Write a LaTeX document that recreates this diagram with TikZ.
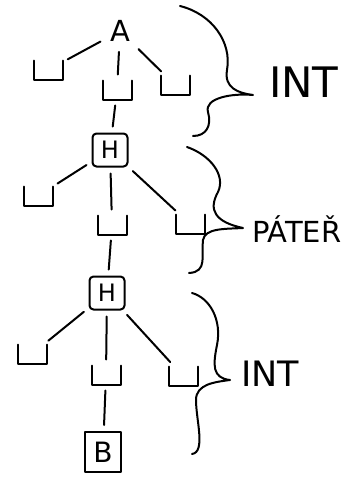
\documentclass[tikz,border=0pt]{standalone}
\usepackage{fontspec}
\setmainfont{DejaVu Sans}
\begin{document}
\begin{tikzpicture}[x=1pt,y=-1pt,line width=2pt,line cap=round,line join=round,
  leaf/.style={minimum width=27pt,minimum height=17pt,inner sep=0pt},
  hbox/.style={draw,rounded corners=4pt,minimum width=35pt,minimum height=33pt,inner sep=0pt,font=\fontsize{24}{24}\selectfont},
  edge/.style={shorten >=6pt,shorten <=6pt},
  lbl/.style={anchor=west,inner sep=0pt}]
\useasboundingbox (0,0) rectangle (351,485);
% nodes
\node[font=\fontsize{29}{29}\selectfont] (A) at (120,31) {A};
\node[leaf] (l1) at (48,70) {};
\node[leaf] (m1) at (117,90) {};
\node[leaf] (r1) at (175,85) {};
\node[hbox] (H1) at (110,150) {H};
\node[leaf] (l2) at (38,196) {};
\node[leaf] (m2) at (112,225) {};
\node[leaf] (r2) at (190,224) {};
\node[hbox] (H2) at (107,293) {H};
\node[leaf] (l3) at (32,354) {};
\node[leaf] (m3) at (106,375) {};
\node[leaf] (r3) at (183,376) {};
\node[draw,minimum width=36pt,minimum height=40pt,inner sep=0pt,font=\fontsize{28}{28}\selectfont] (B) at (103,452) {B};
% open boxes
\foreach \n in {l1,m1,r1,l2,m2,r2,l3,m3,r3}
  \draw (\n.north west) -- (\n.south west) -- (\n.south east) -- (\n.north east);
% edges
\draw[edge] (A) -- (l1);
\draw[edge] (A) -- (m1);
\draw[edge] (A) -- (r1);
\draw[edge] (m1) -- (H1);
\draw[edge] (H1) -- (l2);
\draw[edge] (H1) -- (m2);
\draw[edge] (H1) -- (r2);
\draw[edge] (m2) -- (H2);
\draw[edge] (H2) -- (l3);
\draw[edge] (H2) -- (m3);
\draw[edge] (H2) -- (r3);
\draw[edge] (m3) -- (B);
% braces
\draw (180,6) .. controls (212,14) and (232,42) .. (227,70) .. controls (224,88) and (238,93) .. (253,95)
      .. controls (232,93) and (204,98) .. (208,112) .. controls (212,126) and (206,136) .. (193,136);
\draw (187,147) .. controls (210,155) and (226,175) .. (218,192) .. controls (208,210) and (215,222) .. (243,228)
      .. controls (225,229) and (205,228) .. (203,240) .. controls (201,255) and (208,272) .. (189,273);
\draw (192,293) .. controls (210,298) and (222,320) .. (217,345) .. controls (213,365) and (212,378) .. (230,380)
      .. controls (215,382) and (196,384) .. (196,400) .. controls (196,420) and (206,452) .. (192,454);
% labels
\node[lbl,font=\fontsize{42}{42}\selectfont] (t1) at (268,82) {INT};
\node[lbl,font=\fontsize{29}{29}\selectfont] (t2) at (251,229) {PÁTEŘ};
\node[lbl,font=\fontsize{35}{35}\selectfont] (t3) at (240,374) {INT};
\end{tikzpicture}
\end{document}
